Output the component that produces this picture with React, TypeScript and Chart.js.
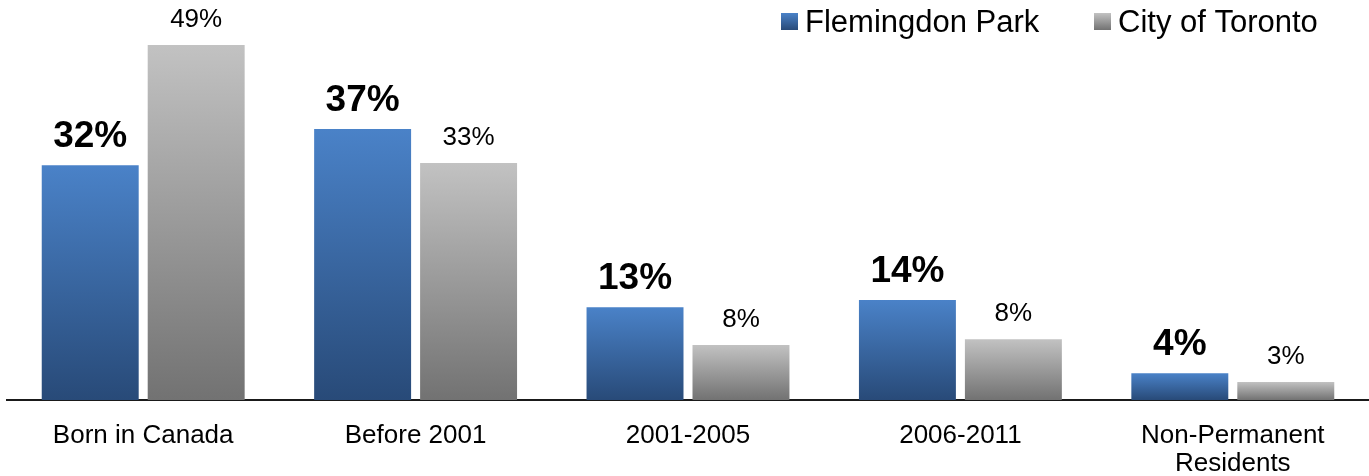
import React, { useEffect, useRef } from "react";
import { Chart, registerables } from "chart.js";

Chart.register(...registerables);

const categories: (string | string[])[] = [
  "Born in Canada",
  "Before 2001",
  "2001-2005",
  "2006-2011",
  ["Non-Permanent", "Residents"],
];
const seriesNames = ["Flemingdon Park", "City of Toronto"];
const flemingdonPark = [32.4, 37.4, 12.8, 13.8, 3.7];
const cityOfToronto = [49, 32.7, 7.6, 8.4, 2.5];

const FONT = "'Liberation Sans', Arial, sans-serif";
const BLUE_TOP = "#4a82c8";
const BLUE_BOTTOM = "#284a78";
const GRAY_TOP = "#c2c2c2";
const GRAY_BOTTOM = "#727272";

function barGradient(ctx: any, top: string, bottom: string) {
  const chart = ctx.chart;
  const y = chart.scales?.y;
  if (!y || ctx.raw == null) return top;
  const yTop = y.getPixelForValue(ctx.raw);
  const yBase = y.getPixelForValue(0);
  if (!isFinite(yTop) || !isFinite(yBase) || yTop === yBase) return top;
  const g = chart.ctx.createLinearGradient(0, yTop, 0, yBase);
  g.addColorStop(0, top);
  g.addColorStop(1, bottom);
  return g;
}

const valueLabels = {
  id: "valueLabels",
  afterDatasetsDraw(chart: any) {
    const ctx = chart.ctx;
    ctx.save();
    ctx.fillStyle = "#000";
    ctx.textAlign = "center";
    ctx.textBaseline = "alphabetic";
    chart.data.datasets.forEach((ds: any, di: number) => {
      const meta = chart.getDatasetMeta(di);
      ctx.font = di === 0 ? `bold 37px ${FONT}` : `26px ${FONT}`;
      meta.data.forEach((bar: any, i: number) => {
        const v = ds.data[i];
        ctx.fillText(`${Math.round(v)}%`, bar.x, bar.y - 18);
      });
    });
    ctx.restore();
  },
};

const customLegend = {
  id: "customLegend",
  afterDraw(chart: any) {
    const ctx = chart.ctx;
    const items = [
      { x: 781, text: seriesNames[0], top: BLUE_TOP, bottom: BLUE_BOTTOM },
      { x: 1094, text: seriesNames[1], top: GRAY_TOP, bottom: GRAY_BOTTOM },
    ];
    ctx.save();
    items.forEach((it) => {
      const g = ctx.createLinearGradient(0, 13, 0, 30);
      g.addColorStop(0, it.top);
      g.addColorStop(1, it.bottom);
      ctx.fillStyle = g;
      ctx.fillRect(it.x, 13, 17, 17);
      ctx.fillStyle = "#000";
      ctx.font = `31px ${FONT}`;
      ctx.textAlign = "left";
      ctx.textBaseline = "alphabetic";
      ctx.fillText(it.text, it.x + 24, 32);
    });
    ctx.restore();
  },
};

export default function App() {
  const ref = useRef<HTMLCanvasElement>(null);
  useEffect(() => {
    if (!ref.current) return;
    const chart = new Chart(ref.current, {
      type: "bar",
      data: {
        labels: categories,
        datasets: [
          {
            label: seriesNames[0],
            data: flemingdonPark,
            backgroundColor: (c: any) => barGradient(c, BLUE_TOP, BLUE_BOTTOM),
            categoryPercentage: 0.778,
            barPercentage: 0.915,
          },
          {
            label: seriesNames[1],
            data: cityOfToronto,
            backgroundColor: (c: any) => barGradient(c, GRAY_TOP, GRAY_BOTTOM),
            categoryPercentage: 0.778,
            barPercentage: 0.915,
          },
        ],
      },
      options: {
        responsive: false,
        animation: false,
        layout: { padding: { left: 7, right: 0, top: 0, bottom: 0 } },
        plugins: {
          legend: { display: false },
          tooltip: { enabled: false },
        },
        scales: {
          x: {
            grid: { display: false, drawTicks: false },
            border: { display: true, color: "#1a1a1a", width: 2 },
            ticks: {
              color: "#000",
              padding: 22,
              maxRotation: 0,
              autoSkip: false,
              font: { family: FONT, size: 26, lineHeight: 28 / 26 },
            },
            afterFit: (s: any) => {
              s.height = 76;
            },
          },
          y: {
            display: false,
            min: 0,
            max: 55.2,
          },
        },
      },
      plugins: [valueLabels, customLegend],
    });
    return () => chart.destroy();
  }, []);
  return (
    <div style={{ position: "absolute", left: 0, top: 0, width: 1369, height: 476, background: "#fff" }}>
      <canvas ref={ref} width={1369} height={476} />
    </div>
  );
}
